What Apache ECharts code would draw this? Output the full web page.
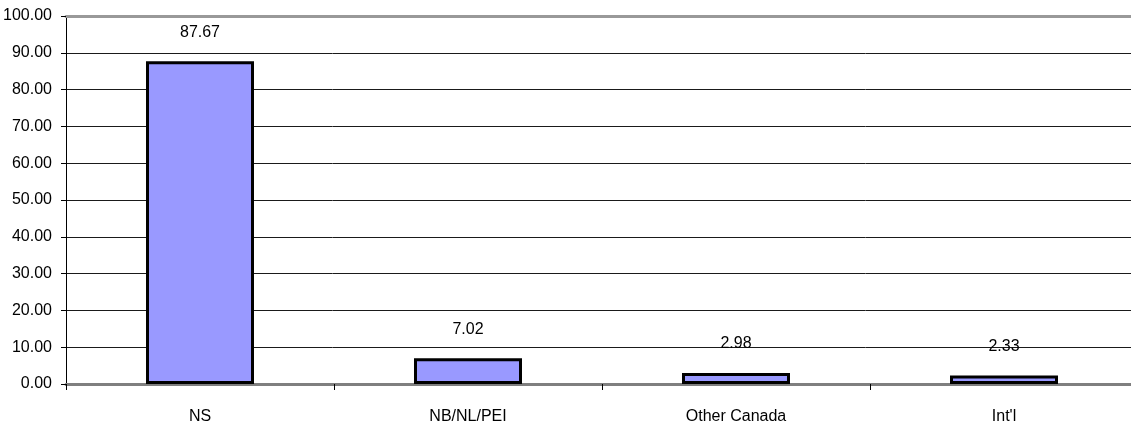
<!DOCTYPE html>
<html>
<head>
<meta charset="utf-8">
<script src="https://cdn.jsdelivr.net/npm/echarts@6/dist/echarts.min.js"></script>
<style>
  html, body { margin: 0; padding: 0; background: #fff; }
  #chart { width: 1131px; height: 431px; }
</style>
</head>
<body>
<div id="chart"></div>
<script>
// Share of total by origin (%)
const categories = ['NS', 'NB/NL/PEI', 'Other Canada', "Int'l"];
const shares = [87.67, 7.02, 2.98, 2.33];

const FONT = "'Liberation Sans Narrow', 'Arial Narrow', 'Liberation Sans', sans-serif";

const chart = echarts.init(document.getElementById('chart'), null, { renderer: 'canvas' });

chart.setOption({
  animation: false,
  backgroundColor: '#ffffff',
  grid: {
    left: 66, right: -7, top: 16, bottom: 47,
    containLabel: false,
    outerBoundsMode: 'none'   // plot area runs slightly past the right edge
  },
  xAxis: [
    {
      type: 'category',
      data: categories,
      position: 'bottom',
      axisLine: { show: true, lineStyle: { color: '#7f7f7f', width: 3 } },
      axisTick: { show: true, alignWithLabel: false, length: 6, lineStyle: { color: '#000', width: 1 } },
      axisLabel: { color: '#000', fontFamily: FONT, fontSize: 16, margin: 25 },
      splitLine: { show: false }
    },
    {
      // plot-area top border
      type: 'category',
      data: categories,
      position: 'top',
      axisLine: { show: true, lineStyle: { color: '#999999', width: 3 } },
      axisTick: { show: false },
      axisLabel: { show: false }
    }
  ],
  yAxis: {
    type: 'value',
    min: 0,
    max: 100,
    interval: 10,
    axisLine: { show: true, lineStyle: { color: '#000', width: 1 } },
    axisTick: { show: true, length: 5, lineStyle: { color: '#000' } },
    axisLabel: {
      color: '#000', fontFamily: FONT, fontSize: 16, margin: 14,
      formatter: v => v.toFixed(2)
    },
    splitLine: { show: true, lineStyle: { color: '#1a1a1a', width: 1 } }
  },
  series: [{
    type: 'bar',
    data: shares,
    barWidth: 108,
    itemStyle: { color: '#9999ff', borderColor: '#000', borderWidth: 3 },
    label: {
      show: true,
      position: 'top',
      distance: 21,
      color: '#000',
      fontFamily: FONT,
      fontSize: 16,
      formatter: p => p.value.toFixed(2)
    }
  }]
});
</script>
</body>
</html>
